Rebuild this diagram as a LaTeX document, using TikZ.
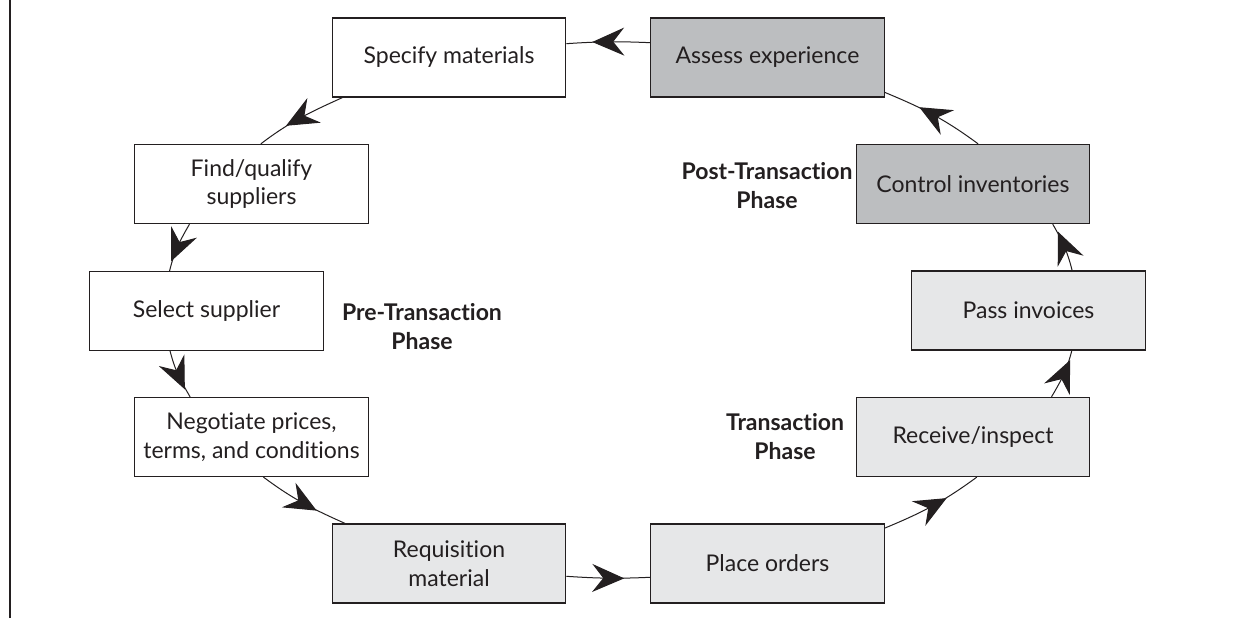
\documentclass[tikz,border=0pt]{standalone}
\usepackage{fontspec}
\setmainfont{Lato}[Ligatures={NoCommon,NoContextual,NoRare}]
\usetikzlibrary{arrows.meta,decorations.markings,calc}
\definecolor{ink}{HTML}{231F20}
\definecolor{lightfill}{HTML}{E6E7E8}
\definecolor{darkfill}{HTML}{BCBEC0}
\begin{document}
\begin{tikzpicture}[x=1pt,y=1pt,
  box/.style={draw=ink, line width=1.3pt, minimum width=233.5pt, minimum height=79pt,
    inner sep=0pt, align=center, font=\fontsize{23}{28.5}\selectfont, text=ink},
  wbox/.style={box, fill=white},
  lbox/.style={box, fill=lightfill},
  dbox/.style={box, fill=darkfill},
  phase/.style={align=center, font=\fontsize{23}{29}\selectfont\bfseries, text=ink},
  conn/.style={draw=ink, line width=1pt, postaction={decorate},
    decoration={markings, mark=at position 0.5 with
      {\arrow[xshift=16pt]{Stealth[length=32pt,width=28pt,inset=11pt]}}}}
]
\useasboundingbox (0,0) rectangle (1252,618);
\fill[white] (0,0) rectangle (1252,618);
\draw[ink, line width=1.3pt] (10,0) -- (10,618);

\node[wbox]  (spec)   at (449,560.5)   {Specify materials};
\node[dbox]  (assess) at (767.5,560.5) {Assess experience};
\node[wbox]  (find)   at (251.5,434)   {Find/qualify\\suppliers};
\node[dbox]  (ctrl)   at (973,434)     {Control inventories};
\node[wbox]  (sel)    at (206.5,307)   {Select supplier};
\node[lbox]  (pass)   at (1028.5,307.5){Pass invoices};
\node[wbox]  (neg)    at (251.5,181)   {Negotiate prices,\\terms, and conditions};
\node[lbox]  (recv)   at (973,181)     {Receive/inspect};
\node[lbox]  (req)    at (449,54.5)    {Requisition\\material};
\node[lbox]  (place)  at (767.5,54.5)  {Place orders};

\node[phase] (pre)  at (422,291)  {Pre-Transaction\\Phase};
\node[phase] (post) at (767,432)  {Post-Transaction\\Phase};
\node[phase] (tra)  at (785,181)  {Transaction\\Phase};

\draw[conn] ([yshift=14.8pt]assess.west) to[out=177.5,in=3.9] ([yshift=13.8pt]spec.east);
\draw[conn] ([xshift=10.7pt]spec.south west) to[out=204.4,in=37.2] ([xshift=9.3pt]find.north);
\draw[conn] ([xshift=-62pt]find.south) to[out=239.9,in=76.4] ([xshift=-36.9pt]sel.north);
\draw[conn] ([xshift=-36.4pt]sel.south) to[out=284.3,in=120.4] ([xshift=-61.4pt]neg.north);
\draw[conn] ([xshift=12pt]neg.south) to[out=323.3,in=155.9] ([xshift=-104.1pt]req.north);
\draw[conn] ([yshift=-12.8pt]req.east) to[out=-3.85,in=182.5] ([yshift=-13.8pt]place.west);
\draw[conn] ([yshift=-4.7pt]place.north east) to[out=22.5,in=216.2] ([xshift=3.8pt]recv.south);
\draw[conn] ([xshift=78.5pt]recv.north) to[out=59.2,in=255.5] ([xshift=43.3pt]pass.south);
\draw[conn] ([xshift=43.6pt]pass.north) to[out=104.2,in=300.2] ([xshift=79.7pt]ctrl.south);
\draw[conn] ([xshift=5.1pt]ctrl.north) to[out=143.6,in=337.5] ([yshift=5.2pt]assess.south east);
\end{tikzpicture}
\end{document}
